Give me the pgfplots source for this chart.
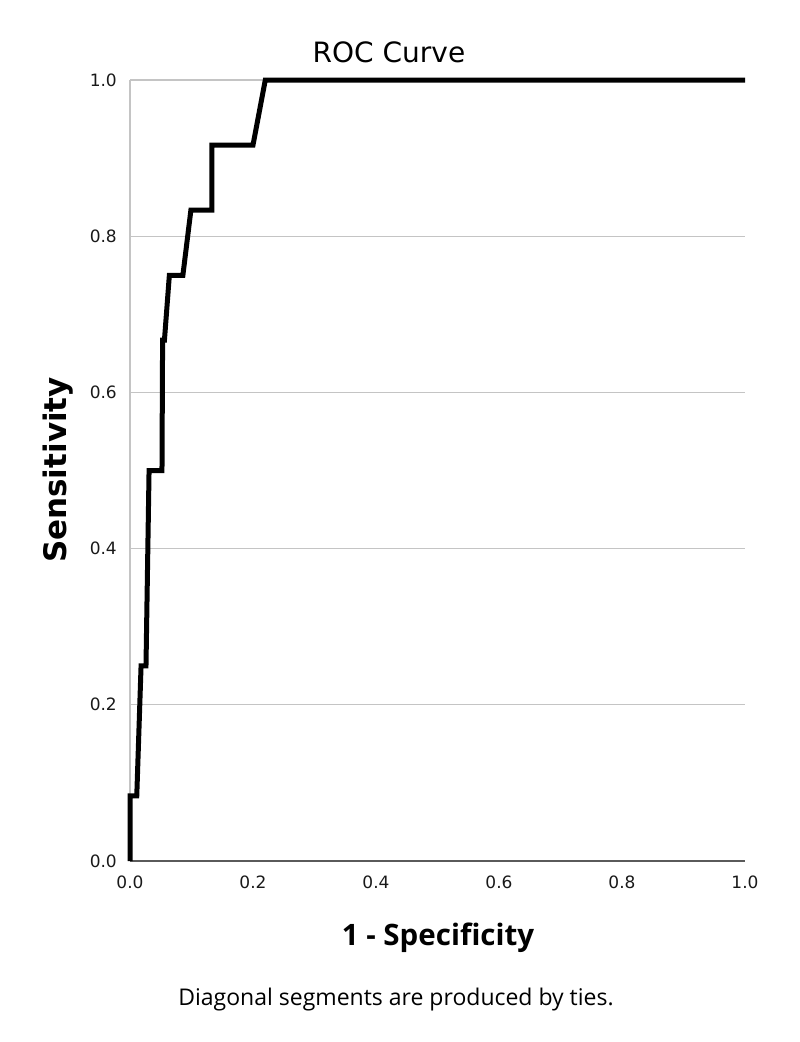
\documentclass[border=0pt]{standalone}
\usepackage{pgfplots}
\pgfplotsset{compat=1.18}
\usepackage{fontspec}
\setmainfont{Open Sans}
\newfontfamily\tickfont{DejaVu Sans}
\definecolor{gridgray}{RGB}{196,196,196}
\definecolor{axgray}{RGB}{90,90,90}
\begin{document}
\begin{tikzpicture}[x=1pt,y=1pt]
\path[use as bounding box] (0,0) rectangle (800,-1042);
\begin{axis}[
  at={(130pt,-861pt)}, anchor=south west,
  scale only axis, width=615pt, height=781pt,
  xmin=0, xmax=1, ymin=0, ymax=1,
  axis x line*=bottom, axis y line*=left,
  x axis line style={-, draw=axgray, line width=2pt},
  y axis line style={-, draw=gridgray, line width=1.5pt},
  xtick={0,0.2,0.4,0.6,0.8,1}, xticklabels={0.0,0.2,0.4,0.6,0.8,1.0},
  ytick={0,0.2,0.4,0.6,0.8,1}, yticklabels={0.0,0.2,0.4,0.6,0.8,1.0},
  major tick length=0pt,
  ticklabel style={font=\tickfont\fontsize{17}{20}\selectfont, text=black!90},
  xticklabel style={anchor=north, inner sep=0pt, yshift=-15pt},
  yticklabel style={anchor=east, inner sep=0pt, xshift=-13pt},
  ymajorgrids, major grid style={draw=gridgray, line width=1.3pt},
  clip=false,
]
\addplot[black, line width=5pt, line join=miter, line cap=butt] coordinates {
(0,0) (0,0.0833) (0.011,0.0833) (0.018,0.25) (0.026,0.25) (0.031,0.5)
(0.052,0.5) (0.053,0.667) (0.056,0.667) (0.064,0.75) (0.086,0.75)
(0.099,0.8333) (0.133,0.8333) (0.133,0.9167) (0.2,0.9167) (0.22,1) (1,1)
};
\end{axis}
\node[font=\tickfont\fontsize{28}{32}\selectfont] at (389,-52) {ROC Curve};
\node[font=\tickfont\bfseries\fontsize{31}{34}\selectfont, rotate=90] at (58,-470) {Sensitivity};
\node[font=\bfseries\fontsize{29.5}{33}\selectfont] at (438,-938) {1 - Specificity};
\node[font=\fontsize{23}{26}\selectfont] at (396,-1000) {Diagonal segments are produced by ties.};
\end{tikzpicture}
\end{document}
